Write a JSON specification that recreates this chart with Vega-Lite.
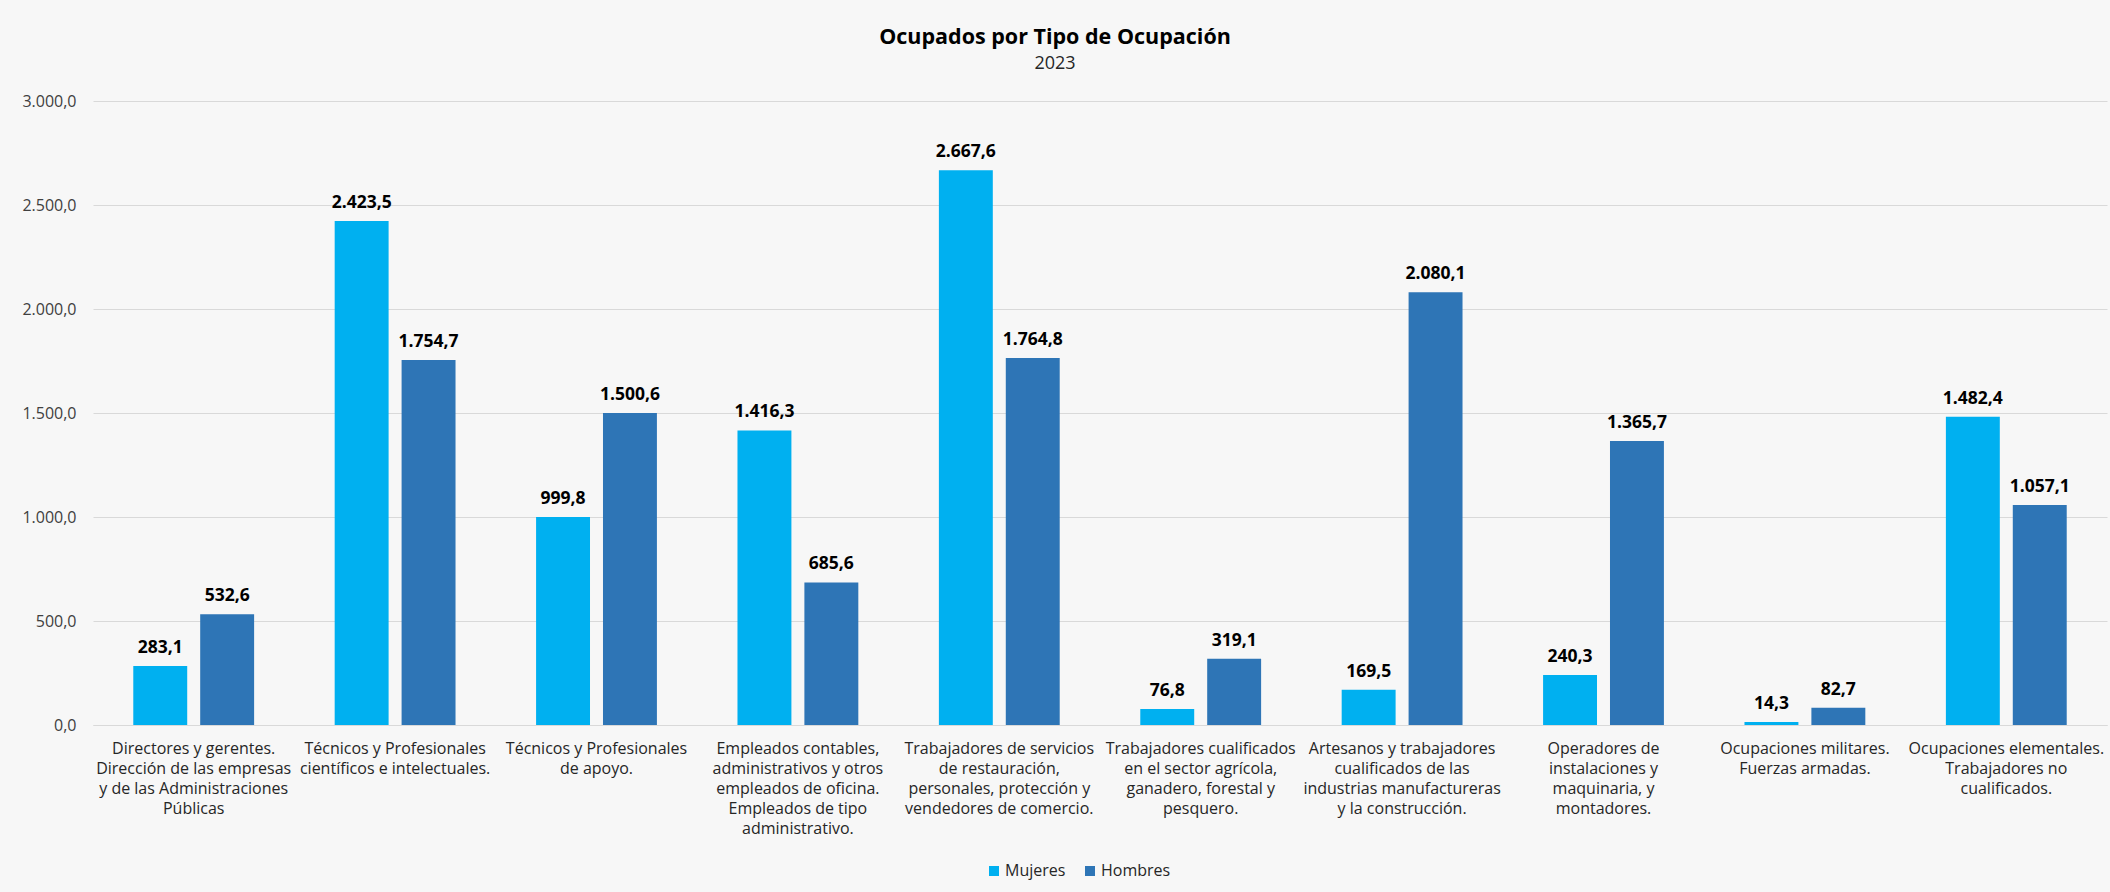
{
  "$schema": "https://vega.github.io/schema/vega-lite/v6.json",
  "width": 2014,
  "height": 624,
  "autosize": {"type": "none"},
  "padding": {"left": 93, "top": 101, "right": 3, "bottom": 167},
  "background": "#f7f7f7",
  "config": {
    "locale": {"number": {"decimal": ",", "thousands": ".", "grouping": [3], "currency": ["", " €"]}},
    "view": {"stroke": null},
    "font": "Open Sans"
  },
  "title": {
    "text": "Ocupados por Tipo de Ocupación",
    "subtitle": "2023",
    "anchor": "middle",
    "frame": "group",
    "dx": -45,
    "offset": 20,
    "font": "Open Sans",
    "fontSize": 21.5,
    "fontWeight": "bold",
    "color": "#000000",
    "subtitleFont": "Open Sans",
    "subtitleFontSize": 18,
    "subtitleColor": "#262626",
    "subtitlePadding": 7
  },
  "data": {
    "values": [
      {"ocupacion": "Directores y gerentes.\nDirección de las empresas\ny de las  Administraciones\nPúblicas", "sexo": "Mujeres", "valor": 283.1},
      {"ocupacion": "Directores y gerentes.\nDirección de las empresas\ny de las  Administraciones\nPúblicas", "sexo": "Hombres", "valor": 532.6},
      {"ocupacion": "Técnicos y Profesionales\ncientíficos e intelectuales.", "sexo": "Mujeres", "valor": 2423.5},
      {"ocupacion": "Técnicos y Profesionales\ncientíficos e intelectuales.", "sexo": "Hombres", "valor": 1754.7},
      {"ocupacion": "Técnicos y Profesionales\nde apoyo.", "sexo": "Mujeres", "valor": 999.8},
      {"ocupacion": "Técnicos y Profesionales\nde apoyo.", "sexo": "Hombres", "valor": 1500.6},
      {"ocupacion": "Empleados contables,\nadministrativos y otros\nempleados de oficina.\nEmpleados de tipo\nadministrativo.", "sexo": "Mujeres", "valor": 1416.3},
      {"ocupacion": "Empleados contables,\nadministrativos y otros\nempleados de oficina.\nEmpleados de tipo\nadministrativo.", "sexo": "Hombres", "valor": 685.6},
      {"ocupacion": "Trabajadores de servicios\nde restauración,\npersonales, protección y\nvendedores de comercio.", "sexo": "Mujeres", "valor": 2667.6},
      {"ocupacion": "Trabajadores de servicios\nde restauración,\npersonales, protección y\nvendedores de comercio.", "sexo": "Hombres", "valor": 1764.8},
      {"ocupacion": "Trabajadores cualificados\nen el sector agrícola,\nganadero, forestal y\npesquero.", "sexo": "Mujeres", "valor": 76.8},
      {"ocupacion": "Trabajadores cualificados\nen el sector agrícola,\nganadero, forestal y\npesquero.", "sexo": "Hombres", "valor": 319.1},
      {"ocupacion": "Artesanos y trabajadores\ncualificados de las\nindustrias manufactureras\ny la construcción.", "sexo": "Mujeres", "valor": 169.5},
      {"ocupacion": "Artesanos y trabajadores\ncualificados de las\nindustrias manufactureras\ny la construcción.", "sexo": "Hombres", "valor": 2080.1},
      {"ocupacion": "Operadores de\ninstalaciones y\nmaquinaria, y\nmontadores.", "sexo": "Mujeres", "valor": 240.3},
      {"ocupacion": "Operadores de\ninstalaciones y\nmaquinaria, y\nmontadores.", "sexo": "Hombres", "valor": 1365.7},
      {"ocupacion": "Ocupaciones militares.\nFuerzas armadas.", "sexo": "Mujeres", "valor": 14.3},
      {"ocupacion": "Ocupaciones militares.\nFuerzas armadas.", "sexo": "Hombres", "valor": 82.7},
      {"ocupacion": "Ocupaciones elementales.\nTrabajadores no\ncualificados.", "sexo": "Mujeres", "valor": 1482.4},
      {"ocupacion": "Ocupaciones elementales.\nTrabajadores no\ncualificados.", "sexo": "Hombres", "valor": 1057.1}
    ]
  },
  "encoding": {
    "x": {
      "field": "ocupacion",
      "type": "nominal",
      "sort": null,
      "scale": {"paddingInner": 0.4, "paddingOuter": 0.2},
      "axis": {
        "title": null,
        "labelAngle": 0,
        "labelExpr": "split(datum.label, '\\n')",
        "labelFont": "Open Sans",
        "labelFontSize": 16,
        "labelColor": "#262626",
        "labelLineHeight": 20,
        "labelPadding": 15,
        "labelLimit": 0,
        "labelOverlap": false,
        "labelBaseline": "top",
        "ticks": false,
        "domainColor": "#d9d9d9",
        "domainWidth": 1
      }
    },
    "xOffset": {
      "field": "sexo",
      "type": "nominal",
      "sort": ["Mujeres", "Hombres"],
      "scale": {"paddingInner": 0.194, "paddingOuter": 0}
    },
    "y": {
      "field": "valor",
      "type": "quantitative",
      "scale": {"domain": [0, 3000]},
      "axis": {
        "title": null,
        "values": [0, 500, 1000, 1500, 2000, 2500, 3000],
        "format": ",.1f",
        "labelFont": "Open Sans",
        "labelFontSize": 16,
        "labelColor": "#404040",
        "labelPadding": 17,
        "ticks": false,
        "domain": false,
        "gridColor": "#d9d9d9",
        "gridWidth": 1
      }
    }
  },
  "layer": [
    {
      "mark": {"type": "bar"},
      "encoding": {
        "color": {
          "field": "sexo",
          "type": "nominal",
          "scale": {"domain": ["Mujeres", "Hombres"], "range": ["#00b0f0", "#2e75b6"]},
          "legend": {
            "title": null,
            "orient": "none",
            "legendX": 893,
            "legendY": 762,
            "direction": "horizontal",
            "symbolType": "square",
            "symbolSize": 100,
            "symbolStrokeWidth": 0,
            "labelFont": "Open Sans",
            "labelFontSize": 16,
            "labelColor": "#262626",
            "labelOffset": 3,
            "columnPadding": 16
          }
        }
      }
    },
    {
      "mark": {"type": "text", "baseline": "alphabetic", "dy": -13, "font": "Open Sans", "fontWeight": "bold", "fontSize": 17.5, "color": "#000000"},
      "encoding": {
        "text": {"field": "valor", "type": "quantitative", "format": ",.1f"}
      }
    }
  ]
}
